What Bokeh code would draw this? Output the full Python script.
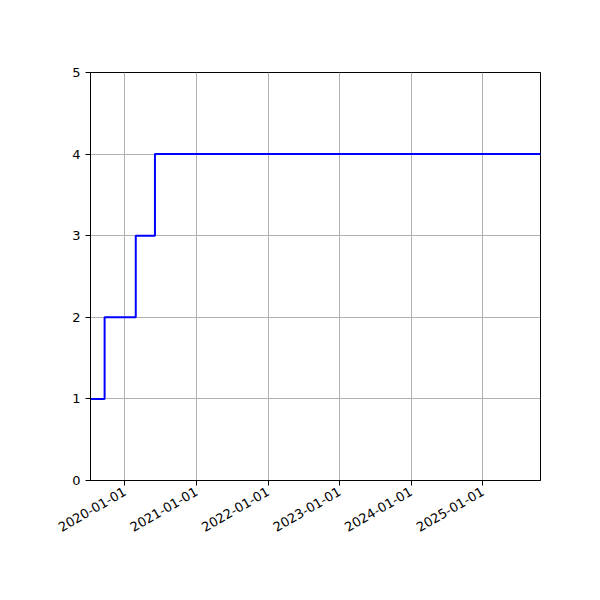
import numpy as np
import pandas as pd
from bokeh.plotting import figure
from bokeh.models import FixedTicker, DatetimeTickFormatter, Range1d
from bokeh.embed import file_html
from bokeh.resources import INLINE

dates = ["2019-07-09", "2019-09-19", "2020-02-25", "2020-06-02", "2025-10-22"]
values = [1, 2, 3, 4, 4]
tick_dates = ["2020-01-01", "2021-01-01", "2022-01-01", "2023-01-01", "2024-01-01", "2025-01-01"]
y_ticks = [0, 1, 2, 3, 4, 5]

x = pd.to_datetime(dates)
xt = [pd.Timestamp(d).value / 1e6 for d in tick_dates]

p = figure(width=584, height=584, x_axis_type="datetime", output_backend="svg",
           toolbar_location=None,
           x_range=Range1d(x[0], x[-1]), y_range=Range1d(0, 5),
           min_border_left=90, min_border_right=44, min_border_top=72, min_border_bottom=104)
p.step(x, values, mode="after", line_color="blue", line_width=2)

p.xaxis.ticker = FixedTicker(ticks=xt)
p.xaxis.formatter = DatetimeTickFormatter(days="%Y-%m-%d", months="%Y-%m-%d", years="%Y-%m-%d")
p.xaxis.major_label_orientation = np.pi / 6
p.yaxis.ticker = FixedTicker(ticks=y_ticks)

for ax in (p.xaxis, p.yaxis):
    ax.major_label_text_font = "DejaVu Sans"
    ax.major_label_text_font_size = "13px"
    ax.major_label_text_color = "black"
    ax.axis_line_color = "black"
    ax.major_tick_line_color = "black"
    ax.major_tick_out = 5
    ax.major_tick_in = 0
    ax.minor_tick_line_color = None

p.grid.grid_line_color = "#b0b0b0"
p.grid.grid_line_width = 1
p.outline_line_color = "black"
p.outline_line_alpha = 1
p.background_fill_color = "white"
p.border_fill_color = "white"

open("out.html", "w").write(file_html(p, INLINE))
